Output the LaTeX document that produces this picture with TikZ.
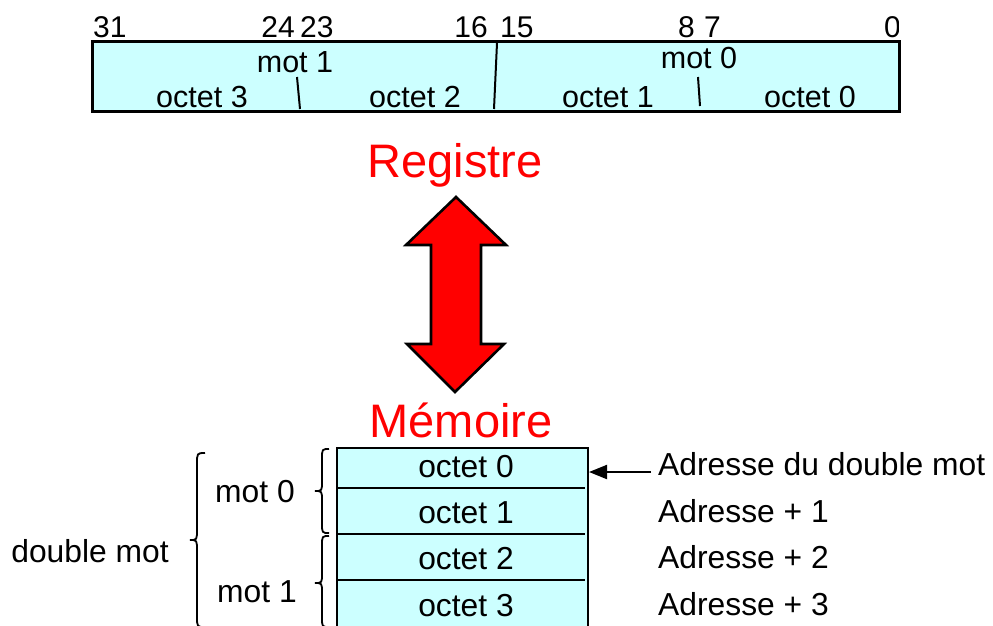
\documentclass[tikz,border=0pt]{standalone}
\usepackage{fontspec}
\setmainfont{Liberation Sans}
\usetikzlibrary{arrows.meta}
\definecolor{cellcyan}{HTML}{CCFFFF}
\definecolor{bigred}{HTML}{FF0000}
\tikzset{
  numlbl/.style={inner sep=0pt,font=\fontsize{30}{33}\selectfont},
  reglbl/.style={inner sep=0pt,anchor=base,font=\fontsize{30.5}{34}\selectfont},
  memlbl/.style={inner sep=0pt,anchor=base,font=\fontsize{31.8}{36}\selectfont},
  title/.style={inner sep=0pt,anchor=base,text=bigred,font=\fontsize{47}{52}\selectfont},
  boxline/.style={line width=2.6pt},
  sepline/.style={line width=2pt},
  bracel/.style={line width=1.8pt},
}
\begin{document}
\begin{tikzpicture}[x=1pt,y=-1pt]
\useasboundingbox (0,0) rectangle (993,625);
\clip (0,0) rectangle (993,625);
% register
\node[draw,boxline,fill=cellcyan,minimum width=807pt,minimum height=70pt,inner sep=0pt,anchor=north west] (reg) at (91,40) {};
\node[numlbl,anchor=base west] (n31) at (93,37) {31};
\node[numlbl,anchor=base east] (n24) at (295,37) {24};
\node[numlbl,anchor=base west] (n23) at (300,37) {23};
\node[numlbl,anchor=base east] (n16) at (488,37) {16};
\node[numlbl,anchor=base west] (n15) at (500,37) {15};
\node[numlbl,anchor=base east] (n8) at (695,37) {8};
\node[numlbl,anchor=base west] (n7) at (704,37) {7};
\begin{scope}
\clip (850,0) rectangle (898,40);
\node[numlbl,anchor=base east] (n0) at (901,37) {0};
\end{scope}
\node[reglbl] (rmot1) at (295,72) {mot 1};
\node[reglbl] (rmot0) at (699,68) {mot 0};
\node[reglbl] (ro3) at (202,107) {octet 3};
\node[reglbl] (ro2) at (415,107) {octet 2};
\node[reglbl] (ro1) at (608,107) {octet 1};
\node[reglbl] (ro0) at (810,107) {octet 0};
\coordinate (d1a) at (297,77); \coordinate (d1b) at (300,109);
\coordinate (d2a) at (497,43); \coordinate (d2b) at (494,109);
\coordinate (d3a) at (698,77); \coordinate (d3b) at (700,106);
\draw[sepline] (d1a) -- (d1b);
\draw[sepline] (d2a) -- (d2b);
\draw[sepline] (d3a) -- (d3b);
% titles
\node[title] (registre) at (455,177) {Registre};
\node[title] (memoire) at (461,437) {Mémoire};
% double arrow
\draw[line width=2.6pt,fill=bigred,line join=miter]
  (456,197) -- (506,245) -- (481,245) -- (481,344) -- (504,344) -- (455,392)
  -- (407,344) -- (431,344) -- (431,245) -- (406,245) -- cycle;
% memory
\draw[boxline,fill=cellcyan] (337,660) -- (337,448) -- (588,448) -- (588,660);
\coordinate (m1a) at (337,488); \coordinate (m1b) at (585,488);
\coordinate (m2a) at (337,534); \coordinate (m2b) at (585,534);
\coordinate (m3a) at (337,580); \coordinate (m3b) at (585,580);
\draw[sepline] (m1a) -- (m1b);
\draw[sepline] (m2a) -- (m2b);
\draw[sepline] (m3a) -- (m3b);
\node[memlbl] (mo0) at (466,477) {octet 0};
\node[memlbl] (mo1) at (466,523) {octet 1};
\node[memlbl] (mo2) at (466,569) {octet 2};
\node[memlbl] (mo3) at (466,616) {octet 3};
% braces
\draw[bracel] (329,449) .. controls (322,449) .. (322,459) -- (322,481)
  .. controls (322,491) .. (315,491) .. controls (322,491) .. (322,501)
  -- (322,523) .. controls (322,533) .. (329,533);
\draw[bracel] (329,536) .. controls (322,536) .. (322,546) -- (322,573)
  .. controls (322,583) .. (315,583) .. controls (322,583) .. (322,593)
  -- (322,617) .. controls (322,627) .. (329,627);
\draw[bracel] (205,453) .. controls (197,453) .. (197,464) -- (197,529)
  .. controls (197,540) .. (190,540) .. controls (197,540) .. (197,551)
  -- (197,616) .. controls (197,627) .. (205,627);
\node[memlbl] (lmot0) at (255,502) {mot 0};
\node[memlbl] (lmot1) at (257,602) {mot 1};
\node[memlbl] (ldm) at (90,562) {double mot};
% addresses
\node[memlbl,anchor=base west] (a0) at (658,475) {Adresse du double mot};
\node[memlbl,anchor=base west] (a1) at (658,522) {Adresse + 1};
\node[memlbl,anchor=base west] (a2) at (658,568) {Adresse + 2};
\node[memlbl,anchor=base west] (a3) at (658,615) {Adresse + 3};
\coordinate (tail) at (651,472);
\coordinate (tip) at (589,472);
\draw[line width=2pt,-{Triangle[length=18pt,width=14pt]}] (tail) -- (tip);
\end{tikzpicture}
\end{document}
